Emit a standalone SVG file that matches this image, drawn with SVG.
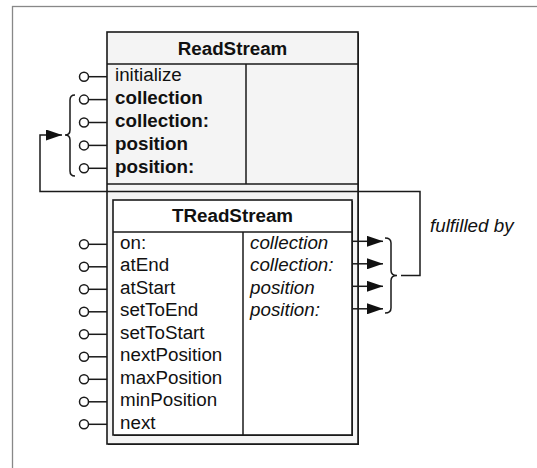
<svg xmlns="http://www.w3.org/2000/svg" width="537" height="468" viewBox="0 0 537 468">
<style>
.box{stroke:#1a1a1a;stroke-width:1.6}
.ln{stroke:#1a1a1a;stroke-width:1.5;fill:none}
.t{font-family:"Liberation Sans",Arial,sans-serif;font-size:18.8px;fill:#111}
.b{font-weight:bold}
.i{font-style:italic}
.lp circle{fill:#fff;stroke:#1a1a1a;stroke-width:1.5}
.lp line{stroke:#1a1a1a;stroke-width:1.5}
</style>
<defs>
<marker id="arr" markerUnits="userSpaceOnUse" markerWidth="16" markerHeight="11" refX="16" refY="5.5" orient="auto">
<path d="M0,0 L16,5.5 L0,11 z" fill="#111"/>
</marker>
<g id="lolli" class="lp"><line x1="88.5" y1="0" x2="107" y2="0"/><circle cx="84" cy="0" r="4.5"/></g>
</defs>
<rect x="12.5" y="6.5" width="600" height="600" fill="#fff" stroke="#888" stroke-width="1.3"/>

<g id="ReadStream">
<rect x="108" y="33" width="251" height="412" fill="#222"/>
<rect class="box" x="107" y="32" width="251" height="412" fill="#f4f4f4"/>
<line class="ln" x1="107" y1="64" x2="358" y2="64"/>
<line class="ln" x1="107" y1="184" x2="358" y2="184"/>
<line class="ln" x1="246" y1="64" x2="246" y2="184"/>
<text class="t b" x="232.5" y="55" text-anchor="middle">ReadStream</text>
<text class="t" x="115" y="81.2">initialize</text>
<text class="t b" x="115" y="104.1">collection</text>
<text class="t b" x="115" y="127">collection:</text>
<text class="t b" x="115" y="149.9">position</text>
<text class="t b" x="115" y="172.8">position:</text>
<use href="#lolli" y="76.7"/>
<use href="#lolli" y="99.6"/>
<use href="#lolli" y="122.5"/>
<use href="#lolli" y="145.4"/>
<use href="#lolli" y="168.3"/>
<path class="ln" d="M75,95 Q70,95 70,100 L70,130 Q70,135 65,135 Q70,135 70,140 L70,171 Q70,176 75,176"/>
</g>

<g id="TReadStream">
<rect x="114" y="201" width="239" height="235" fill="#222"/>
<rect class="box" x="113" y="200" width="239" height="235" fill="#fff"/>
<line class="ln" x1="113" y1="232" x2="352" y2="232"/>
<line class="ln" x1="243" y1="232" x2="243" y2="435"/>
<text class="t b" x="232.5" y="222" text-anchor="middle">TReadStream</text>
<text class="t" x="120" y="248.8">on:</text>
<text class="t" x="120" y="271.3">atEnd</text>
<text class="t" x="120" y="293.8">atStart</text>
<text class="t" x="120" y="316.3">setToEnd</text>
<text class="t" x="120" y="338.8">setToStart</text>
<text class="t" x="120" y="361.3">nextPosition</text>
<text class="t" x="120" y="383.8">maxPosition</text>
<text class="t" x="120" y="406.3">minPosition</text>
<text class="t" x="120" y="428.8">next</text>
<text class="t i" x="250" y="248.8">collection</text>
<text class="t i" x="250" y="271.3">collection:</text>
<text class="t i" x="250" y="293.8">position</text>
<text class="t i" x="250" y="316.3">position:</text>
<use href="#lolli" y="244.3"/>
<use href="#lolli" y="266.8"/>
<use href="#lolli" y="289.3"/>
<use href="#lolli" y="311.8"/>
<use href="#lolli" y="334.3"/>
<use href="#lolli" y="356.8"/>
<use href="#lolli" y="379.3"/>
<use href="#lolli" y="401.8"/>
<use href="#lolli" y="424.3"/>
<path class="ln" d="M385,238 Q391,238 391,243 L391,270.5 Q391,275.5 397,275.5 Q391,275.5 391,280.5 L391,308 Q391,313 385,313"/>
</g>

<g id="connectors">
<path class="ln" d="M401,275.5 H420 V191.5 H40 V135 H62" marker-end="url(#arr)"/>
<line class="ln" x1="352" y1="241.3" x2="383" y2="241.3" marker-end="url(#arr)"/>
<line class="ln" x1="352" y1="263.8" x2="383" y2="263.8" marker-end="url(#arr)"/>
<line class="ln" x1="352" y1="286.3" x2="383" y2="286.3" marker-end="url(#arr)"/>
<line class="ln" x1="352" y1="308.8" x2="383" y2="308.8" marker-end="url(#arr)"/>
</g>

<g id="label">
<text class="t i" x="430" y="232">fulfilled by</text>
</g>
</svg>
